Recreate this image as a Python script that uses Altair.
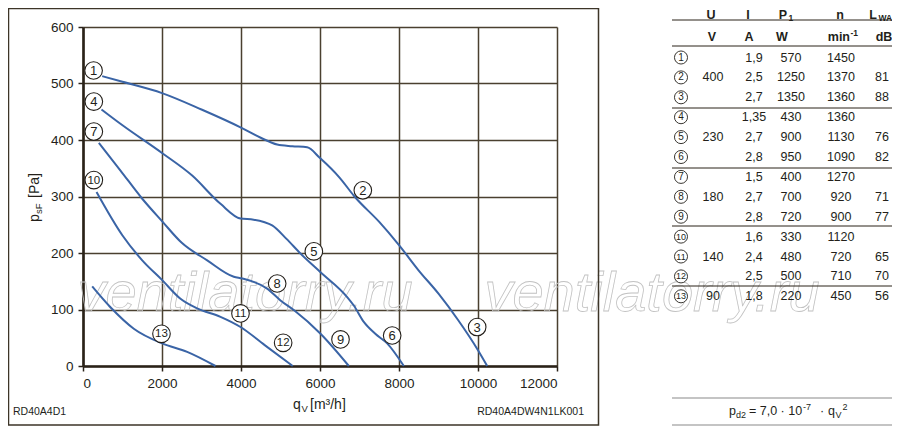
import altair as alt
import pandas as pd

# ---------------- data ----------------
# characteristic curves: q_V [m3/h] vs p_sF [Pa]
q_400 = [486, 1000, 2000, 3000, 4000, 4500, 4916, 5300, 5676, 6000, 6500, 6873, 7500, 8000, 8500, 9000, 9500, 10000, 10233]
p_400 = [513, 503, 483, 454, 422, 404, 392, 389, 387, 368, 333, 300, 255, 214, 169, 128, 81, 28, 0]

q_230 = [468, 1000, 2000, 2764, 3481, 3987, 4320, 4577, 4789, 5152, 5506, 6013, 6688, 6856, 7109, 7400, 7700, 8122]
p_230 = [454, 426, 377, 337, 287, 261, 259, 255, 249, 225, 199, 166, 122, 107, 78, 57, 40, 0]

q_180 = [401, 949, 1500, 2005, 2500, 3144, 3818, 4030, 4662, 5000, 5337, 6013, 6730]
p_180 = [395, 346, 296, 256, 218, 187, 158, 155, 137, 116, 99, 57, 0]

q_140 = [342, 1000, 1500, 2005, 2468, 2890, 3481, 3987, 4600, 5310]
p_140 = [308, 231, 187, 152, 119, 102, 87, 69, 37, 0]

q_90 = [233, 696, 1286, 2005, 2637, 3354]
p_90 = [141, 104, 66, 40, 25, 0]

# circled operating-point labels
label_no = [str(i) for i in range(1, 14)]
label_q = [268, 7084, 9979, 274, 5844, 7827, 274, 4916, 6519, 274, 3987, 5067, 1987]
label_p = [523, 311, 69, 468, 203, 54, 415, 146, 47, 329, 93, 41, 57]

x_ticks = [0, 2000, 4000, 6000, 8000, 10000, 12000]
y_ticks = [0, 100, 200, 300, 400, 500, 600]

# table
tbl_U = ["", "400", "", "", "230", "", "", "180", "", "", "140", "", "90"]
tbl_I = ["1,9", "2,5", "2,7", "1,35", "2,7", "2,8", "1,5", "2,7", "2,8", "1,6", "2,4", "2,5", "1,8"]
tbl_P1 = ["570", "1250", "1350", "430", "900", "950", "400", "700", "720", "330", "480", "500", "220"]
tbl_n = ["1450", "1370", "1360", "1360", "1130", "1090", "1270", "920", "900", "1120", "720", "710", "450"]
tbl_L = ["", "81", "88", "", "76", "82", "", "71", "77", "", "65", "70", "56"]

# ---------------- style / layout ----------------
FONT = "Liberation Sans"
INK = "#231f1a"
GRID = "#4a4030"
BLUE = "#3a64a6"
W, H = 474, 339


def px(df_cols):
    return pd.DataFrame(df_cols)


def txt(df, size, weight="normal", align="center", baseline="middle", angle=0,
        color=INK, style="normal"):
    return alt.Chart(df).mark_text(
        font=FONT, fontSize=size, fontWeight=weight, align=align,
        baseline=baseline, angle=angle, color=color, fontStyle=style
    ).encode(
        x=alt.X("x:Q", scale=None, axis=None),
        y=alt.Y("y:Q", scale=None, axis=None),
        text="t:N",
    )


# ---------------- plot part ----------------
curves = pd.concat([
    pd.DataFrame({"q": q_400, "p": p_400, "c": "400"}),
    pd.DataFrame({"q": q_230, "p": p_230, "c": "230"}),
    pd.DataFrame({"q": q_180, "p": p_180, "c": "180"}),
    pd.DataFrame({"q": q_140, "p": p_140, "c": "140"}),
    pd.DataFrame({"q": q_90, "p": p_90, "c": "90"}),
])

labels = pd.DataFrame({"q": label_q, "p": label_p, "t": label_no})

xs = alt.Scale(domain=[0, 12000], nice=False)
ys = alt.Scale(domain=[0, 600], nice=False)

common_axis = dict(grid=True, gridColor=GRID, gridWidth=1.5, gridOpacity=1,
                   domainColor="#2a2218", domainWidth=2.6, tickColor="#2a2218",
                   tickSize=5, tickWidth=1.5, labelFont=FONT, labelFontSize=13.5,
                   labelColor=INK, format="d", title="")
x_axis = alt.Axis(values=x_ticks, labelPadding=5, **common_axis)
y_axis = alt.Axis(values=y_ticks, labelPadding=5, **common_axis)

lines = alt.Chart(curves).mark_line(color=BLUE, strokeWidth=2, interpolate="monotone").encode(
    x=alt.X("q:Q", scale=xs, axis=x_axis),
    y=alt.Y("p:Q", scale=ys, axis=y_axis),
    detail="c:N",
)

lab_circ = alt.Chart(labels).mark_point(
    shape="circle", filled=True, fill="white", stroke=INK, strokeWidth=1.1,
    size=310, opacity=1
).encode(x=alt.X("q:Q", scale=xs), y=alt.Y("p:Q", scale=ys))

lab_txt1 = alt.Chart(labels).transform_filter("length(datum.t) == 1").mark_text(
    font=FONT, fontSize=13, color=INK, baseline="middle", dy=0.5
).encode(x=alt.X("q:Q", scale=xs), y=alt.Y("p:Q", scale=ys), text="t:N")
lab_txt2 = alt.Chart(labels).transform_filter("length(datum.t) == 2").mark_text(
    font=FONT, fontSize=11.5, color=INK, baseline="middle", dy=0.5
).encode(x=alt.X("q:Q", scale=xs), y=alt.Y("p:Q", scale=ys), text="t:N")

plot = alt.layer(lines, lab_circ, lab_txt1, lab_txt2)

# ---------------- overlay (pixel positions relative to plot origin) ----------------
# outer frame
frame = alt.Chart(px({"x": [-74.5], "x2": [515.5], "y": [-18.5], "y2": [398]})).mark_rect(
    filled=False, stroke="#3d3528", strokeWidth=1.5
).encode(
    x=alt.X("x:Q", scale=None, axis=None), x2="x2:Q",
    y=alt.Y("y:Q", scale=None, axis=None), y2="y2:Q",
)

# watermark
wm = alt.Chart(px({"x": [162, 569], "y": [284, 284], "t": ["ventilatorry.ru", "ventilatorry.ru"]})).mark_text(
    font=FONT, fontSize=56, fontStyle="italic", align="center", baseline="alphabetic",
    fillOpacity=0, stroke="#c2c2c2", strokeWidth=0.8
).encode(x=alt.X("x:Q", scale=None, axis=None), y=alt.Y("y:Q", scale=None, axis=None), text="t:N")

# axis titles
xt_main = txt(px({"x": [210, 227], "y": [378, 378], "t": ["q", "[m³/h]"]}), 14, align="left")
xt_sub = txt(px({"x": [218.5], "y": [382], "t": ["V"]}), 9.5, align="left")
yt_main = txt(px({"x": [-48, -48], "y": [195, 171], "t": ["p", "[Pa]"]}), 14, align="left", angle=270)
yt_sub = txt(px({"x": [-44], "y": [187], "t": ["sF"]}), 9.5, align="left", angle=270)

foot_l = txt(px({"x": [-70], "y": [385], "t": ["RD40A4D1"]}), 10.5, align="left")
foot_r = txt(px({"x": [501], "y": [385], "t": ["RD40A4DW4N1LK001"]}), 10.5, align="right")

# table
row_y = [30.5 + 19.9 * i for i in range(13)]
col_circ, col_U, col_I, col_P, col_n, col_L = 598, 630, 671, 708, 758, 799

hdr1 = txt(px({"x": [628, 665, 700, 757, 790], "y": [-12] * 5, "t": ["U", "I", "P", "n", "L"]}), 12.5, weight="bold")
hdr1_sub = pd.DataFrame({"x": [705.5, 795.5], "y": [-9, -9], "t": ["1", "WA"]})
hdr1s = txt(hdr1_sub, 8.5, weight="bold", align="left")
hdr2 = txt(px({"x": [629, 666, 699, 801], "y": [9.5] * 4, "t": ["V", "A", "W", "dB"]}), 12.5, weight="bold")
hdr2_min = txt(px({"x": [767], "y": [9.5], "t": ["min"]}), 12.5, weight="bold", align="right")
hdr2_sup = txt(px({"x": [767.5], "y": [5.5], "t": ["-1"]}), 8.5, weight="bold", align="left")

cells = []
for col_x, vals in [(col_U, tbl_U), (col_I, tbl_I), (col_P, tbl_P1), (col_n, tbl_n), (col_L, tbl_L)]:
    for i, v in enumerate(vals):
        if v:
            cells.append({"x": col_x, "y": row_y[i], "t": v})
cells_df = pd.DataFrame(cells)
tbl_text = txt(cells_df, 12.5)

tcirc_df = pd.DataFrame({"x": [col_circ] * 13, "y": row_y, "t": label_no})
tbl_circ = alt.Chart(tcirc_df).mark_point(
    shape="circle", filled=True, fill="white", stroke=INK, strokeWidth=0.9, size=170, opacity=1
).encode(x=alt.X("x:Q", scale=None, axis=None), y=alt.Y("y:Q", scale=None, axis=None))
tbl_num1 = txt(tcirc_df[tcirc_df["t"].str.len() == 1], 10)
tbl_num2 = txt(tcirc_df[tcirc_df["t"].str.len() == 2], 9)

rules_dark = alt.Chart(px({"x1": [589] * 6, "x2": [809] * 6, "y": [-7, 19, 81, 141, 199, 259]})).mark_rule(
    color="#2a2218", strokeWidth=1
).encode(x=alt.X("x1:Q", scale=None, axis=None), x2="x2:Q", y=alt.Y("y:Q", scale=None, axis=None))
rules_gray = alt.Chart(px({"x1": [589] * 2, "x2": [809] * 2, "y": [371, 398]})).mark_rule(
    color="#8a8a8a", strokeWidth=1.2
).encode(x=alt.X("x1:Q", scale=None, axis=None), x2="x2:Q", y=alt.Y("y:Q", scale=None, axis=None))

# formula  p_d2 = 7,0 · 10^-7 · q_V^2
f_main = txt(px({"x": [646, 666, 737, 745], "y": [384] * 4, "t": ["p", "= 7,0 · 10", "·", "q"]}), 12.5, align="left")
f_sub = txt(px({"x": [653, 752.5], "y": [387.5, 387.5], "t": ["d2", "V"]}), 9, align="left")
f_sup = txt(px({"x": [720, 759.5], "y": [379.5, 379.5], "t": ["-7", "2"]}), 9, align="left")

chart = alt.layer(
    wm, plot, frame,
    xt_main, xt_sub, yt_main, yt_sub, foot_l, foot_r,
    rules_dark, rules_gray,
    hdr1, hdr1s, hdr2, hdr2_min, hdr2_sup,
    tbl_text, tbl_circ, tbl_num1, tbl_num2,
    f_main, f_sub, f_sup,
).resolve_scale(x="independent", y="independent").properties(
    width=W, height=H,
    autosize=alt.AutoSizeParams(type="none"),
    padding={"left": 75, "top": 19, "right": 335, "bottom": 61},
).configure_view(stroke="transparent")

chart.save("out.html", embed_options={"renderer": "svg", "actions": False})
